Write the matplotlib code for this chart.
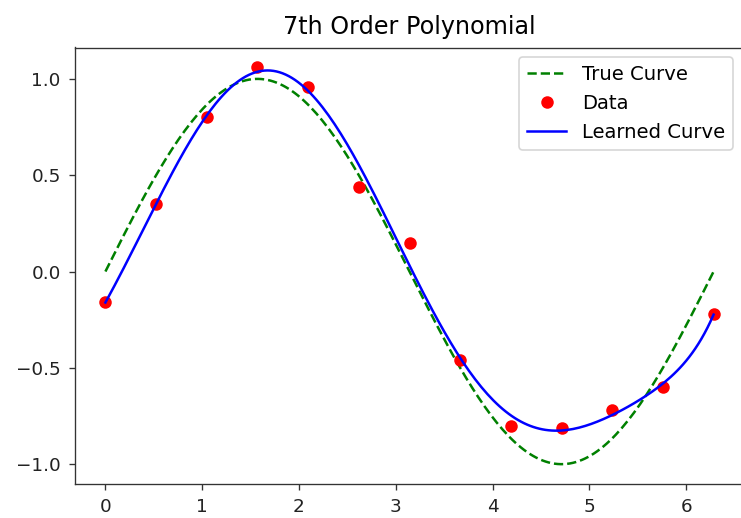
import matplotlib
matplotlib.use("Agg")
import matplotlib.pyplot as plt
import numpy as np

x_data = np.array([0.0, 0.524, 1.047, 1.571, 2.094, 2.618, 3.142,
                   3.665, 4.189, 4.712, 5.236, 5.760, 6.283])
y_data = np.array([-0.16, 0.35, 0.80, 1.06, 0.96, 0.44, 0.15,
                   -0.46, -0.80, -0.81, -0.72, -0.60, -0.22])
degree = 7
title = "7th Order Polynomial"

x_fine = np.linspace(0, 2 * np.pi, 200)
y_true = np.sin(x_fine)
coefs = np.polyfit(x_data, y_data, degree)
y_learned = np.polyval(coefs, x_fine)

fig = plt.figure(figsize=(741 / 120, 518 / 120), dpi=120)
ax = fig.add_axes([75 / 741, 1 - 484 / 518, 669 / 741, 436.5 / 518])

ax.plot(x_fine, y_true, "g--", label="True Curve")
ax.plot(x_data, y_data, "ro", markersize=6.5, label="Data")
ax.plot(x_fine, y_learned, "b", label="Learned Curve")

ax.set_title(title, fontsize=14.3, pad=8)
ax.tick_params(labelsize=11, pad=5, color="#333333", labelcolor="#222222")
for s in ax.spines.values():
    s.set_color("#333333")
ax.legend(loc="upper right", bbox_to_anchor=(0.9836, 0.978), borderaxespad=0,
          fontsize=11.8)

fig.savefig("out.png", dpi=120)
